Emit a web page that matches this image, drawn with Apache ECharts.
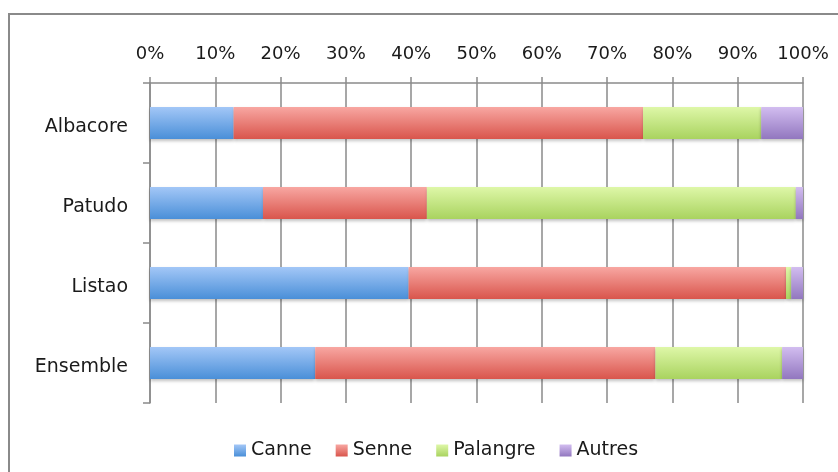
<!DOCTYPE html>
<html>
<head>
<meta charset="utf-8">
<script src="https://cdn.jsdelivr.net/npm/echarts@6/dist/echarts.min.js"></script>
<style>
html,body{margin:0;padding:0;background:#fff;}
#chart{width:838px;height:472px;}
</style>
</head>
<body>
<div id="chart"></div>
<script>
const categories = ['Albacore', 'Patudo', 'Listao', 'Ensemble'];
const seriesNames = ['Canne', 'Senne', 'Palangre', 'Autres'];
const canne = [12.8, 17.3, 39.6, 25.3];
const senne = [62.7, 25.1, 57.8, 52.1];
const palangre = [18.1, 56.5, 0.8, 19.4];
const autres = [6.4, 1.1, 1.8, 3.2];
const tickValues = [0, 10, 20, 30, 40, 50, 60, 70, 80, 90, 100];

const colorPairs = [
  ['#a3c7f7', '#4a8fd8'],
  ['#f8a7a2', '#d9554c'],
  ['#def7a8', '#a9d35f'],
  ['#d2bdf0', '#9277bf']
];
function grad(p) {
  return {type: 'linear', x: 0, y: 0, x2: 0, y2: 1,
    colorStops: [{offset: 0, color: p[0]}, {offset: 1, color: p[1]}]};
}
const values = [canne, senne, palangre, autres];
const chart = echarts.init(document.getElementById('chart'));
const fontFam = 'DejaVu Sans';
chart.setOption({
  animation: false,
  textStyle: {fontFamily: fontFam},
  graphic: [{
    type: 'rect', shape: {x: 9, y: 14, width: 900, height: 600},
    style: {fill: 'none', stroke: '#8a8a8a', lineWidth: 2}, silent: true, z: -1
  }],
  grid: {left: 150, right: 35, top: 83, height: 320},
  legend: {
    left: 229, top: 436, icon: 'rect', itemWidth: 12, itemHeight: 12, itemGap: 24,
    textStyle: {fontFamily: fontFam, fontSize: 19, color: '#1a1a1a'},
    data: seriesNames
  },
  xAxis: {
    type: 'value', position: 'top', min: 0, max: 100, interval: 10,
    axisLabel: {formatter: '{value}%', fontSize: 18, color: '#1a1a1a', margin: 20},
    axisLine: {show: true, lineStyle: {color: '#8a8a8a', width: 1.5}},
    axisTick: {show: true, length: 6, lineStyle: {color: '#8a8a8a', width: 1.5}},
    splitLine: {show: true, lineStyle: {color: '#8a8a8a', width: 1.5}}
  },
  yAxis: {
    type: 'category', inverse: true, data: categories,
    axisLabel: {
      fontSize: 19, color: '#1a1a1a', margin: 22,
      formatter: '{c|{value}}',
      rich: {c: {fontSize: 19, fontFamily: fontFam, color: '#1a1a1a', padding: [9, 0, 0, 0]}}
    },
    axisLine: {show: true, lineStyle: {color: '#8a8a8a', width: 1.5}},
    axisTick: {show: true, length: 7, lineStyle: {color: '#8a8a8a', width: 1.5}}
  },
  series: seriesNames.map((n, i) => ({
    name: n, type: 'bar', stack: 'total', barWidth: '40%', data: values[i],
    itemStyle: {color: grad(colorPairs[i]), shadowColor: 'rgba(0,0,0,0.25)', shadowBlur: 3, shadowOffsetY: 2}
  }))
});
</script>
</body>
</html>
